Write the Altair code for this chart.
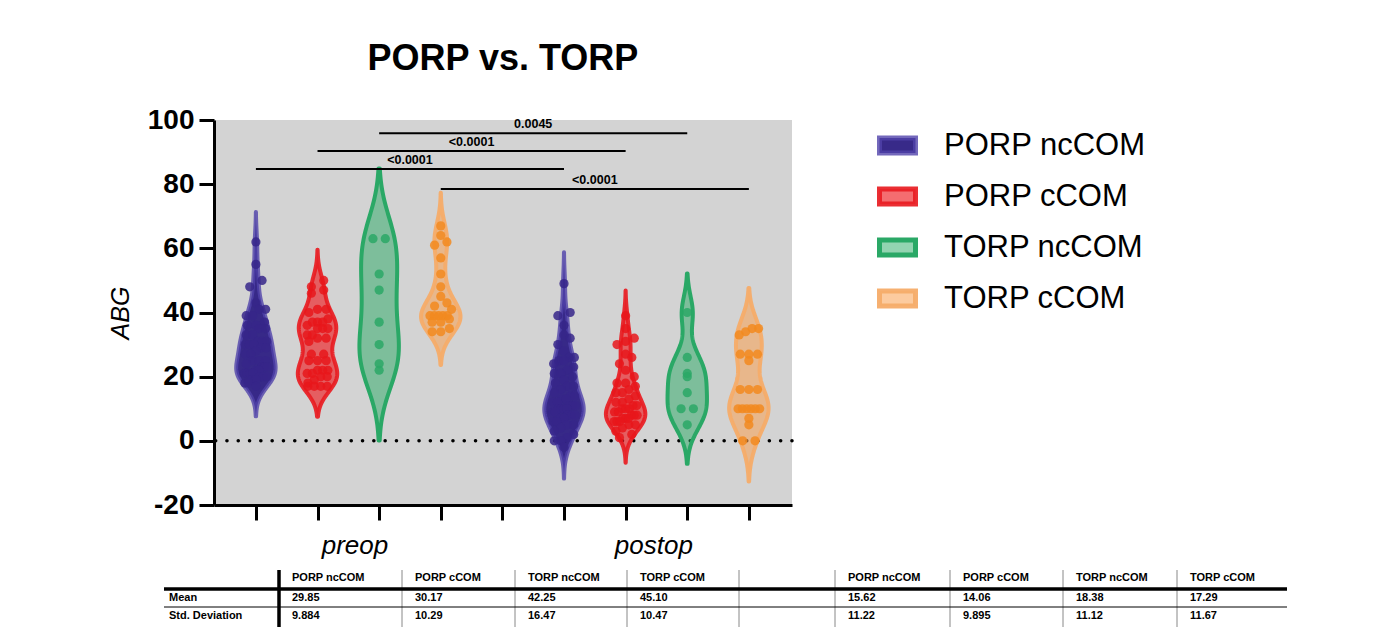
import altair as alt
import numpy as np
import pandas as pd

# ---------------- data ----------------
groups = ["PORP ncCOM", "PORP cCOM", "TORP ncCOM", "TORP cCOM"]
timepoints = ["preop", "postop"]

preop_porp_nccom = [62, 55, 50, 48, 43, 41, 41, 39, 39, 37, 36, 36, 35, 35, 33, 33, 31, 31, 31, 30,
                    30, 30, 29, 29, 28, 27, 27, 25, 25, 25, 24, 23, 23, 23, 22, 22, 21, 21, 21, 21,
                    20, 20, 20, 19, 19, 18, 18, 17]
preop_porp_ccom = [50, 48, 47, 46, 41, 41, 40, 38, 37, 37, 37, 36, 35, 35, 35, 33, 33, 32, 32, 31,
                   27, 27, 25, 25, 25, 22, 21, 22, 22, 21, 20, 20, 19, 18, 17, 17, 17, 17]
preop_torp_nccom = [63, 63, 52, 47, 37, 30, 24, 22]
preop_torp_ccom = [67, 64, 62, 61, 57, 52, 48, 45, 43, 42, 41, 39, 39, 39, 39, 39, 38, 37, 37, 35, 34, 34]

postop_porp_nccom = [49, 40, 39, 36, 33, 32, 30, 28, 26, 25, 26, 25, 24, 23, 22, 21, 21, 20, 19, 18,
                     17, 17, 16, 15, 14, 14, 13, 13, 12, 12, 11, 11, 11, 10, 10, 10, 10, 9, 9, 8,
                     8, 8, 7, 7, 6, 6, 5, 5, 4, 3, 2, 1, 0, 0, -2]
postop_porp_ccom = [39, 35, 32, 31, 30, 27, 26, 24, 22, 20, 18, 18, 17, 16, 15, 15, 14, 13, 12, 12,
                    11, 11, 10, 10, 10, 9, 9, 8, 8, 8, 7, 7, 7, 6, 6, 6, 5, 5, 4, 3, 2, 1]
postop_torp_nccom = [40, 26, 21, 20, 15, 10, 10, 5]
postop_torp_ccom = [35, 35, 34, 33, 27, 27, 27, 25, 16, 16, 16, 10, 10, 10, 10, 10, 10, 7, 5, 0, 0]

series = [
    [preop_porp_nccom, preop_porp_ccom, preop_torp_nccom, preop_torp_ccom],
    [postop_porp_nccom, postop_porp_ccom, postop_torp_nccom, postop_torp_ccom],
]

# summary table (as printed under the chart)
table_rows = ["Mean", "Std. Deviation"]
preop_mean = ["29.85", "30.17", "42.25", "45.10"]
preop_sd = ["9.884", "10.29", "16.47", "10.47"]
postop_mean = ["15.62", "14.06", "18.38", "17.29"]
postop_sd = ["11.22", "9.895", "11.12", "11.67"]

# preop vs postop comparisons, one per group
sig_labels = ["<0.0001", "<0.0001", "0.0045", "<0.0001"]

# ---------------- layout / style ----------------
FONT = "Liberation Sans"
sig_levels = [84.7, 90.3, 95.9, 78.5]          # height of each comparison bar (ABG units)
fill_colors = ["rgba(48,33,132,0.96)", "rgba(238,30,35,0.65)", "rgba(40,170,100,0.5)", "rgba(250,160,80,0.55)"]
stroke_colors = ["rgba(80,66,170,0.8)", "rgba(232,28,34,0.92)", "#2AA866", "rgba(246,172,105,0.95)"]
point_colors = ["#36268A", "#E8161B", "#2AA866", "#F28A1E"]
HALF_W = 0.32
TIME_LABEL_POS = [1.6, 6.45]

n_g = len(groups)
rows = []
for ti, tp in enumerate(timepoints):
    for gi, g in enumerate(groups):
        for v in series[ti][gi]:
            rows.append({"key": f"{tp}|{g}", "group": g, "pos": ti * (n_g + 1) + gi, "value": v})
df = pd.DataFrame(rows)

xsc = alt.Scale(domain=[-0.68, 8.70], nice=False, zero=False)
ysc = alt.Scale(domain=[-20, 100], nice=False, zero=False)

p1, p2 = TIME_LABEL_POS
xax = alt.Axis(
    values=sorted(list(range(9)) + TIME_LABEL_POS), title=None, grid=False,
    labelExpr=f"datum.value == {p1} ? '{timepoints[0]}' : (datum.value == {p2} ? '{timepoints[1]}' : '')",
    tickOpacity={"condition": {"test": f"datum.value == {p1} || datum.value == {p2}", "value": 0}, "value": 1},
    labelFontSize=26, labelFontStyle="italic", labelFont=FONT, labelColor="black", labelPadding=12,
    tickSize=15, tickWidth=3, tickColor="black", domainWidth=3, domainColor="black",
    labelOverlap=False, labelFlush=False, labelBound=False)
yax = alt.Axis(
    values=[-20, 0, 20, 40, 60, 80, 100], title="ABG", titleFontSize=25, titleFontStyle="italic",
    titleFontWeight="normal", titleFont=FONT, titleColor="black", titlePadding=14,
    labelExpr="datum.value < 0 ? '-' + abs(datum.value) : datum.label",
    labelFontSize=28, labelFontWeight="bold", labelFont=FONT, labelColor="black", labelPadding=5,
    tickSize=15, tickWidth=3, tickColor="black", domainWidth=3, domainColor="black", grid=False)

legend = alt.Legend(
    title=None, orient="none", legendX=663, legendY=5,
    symbolType="M-1,-0.42H1V0.42H-1Z", symbolSize=1296, symbolStrokeWidth=5,
    labelFontSize=31, labelFont=FONT, labelColor="black", labelOffset=26, labelLimit=500,
    rowPadding=12)

fill_enc = alt.Fill("group:N", scale=alt.Scale(domain=groups, range=fill_colors), legend=legend)
stroke_enc = alt.Stroke("group:N", scale=alt.Scale(domain=groups, range=stroke_colors), legend=legend)


def scott_bw(v):
    v = np.asarray(v, float)
    sd = v.std(ddof=1)
    q1, q3 = np.percentile(v, [25, 75])
    s = min(sd, (q3 - q1) / 1.34) if q3 > q1 else sd
    return 1.06 * s * len(v) ** -0.2


violins = []
for ti, tp in enumerate(timepoints):
    for gi, g in enumerate(groups):
        vals = series[ti][gi]
        bw = scott_bw(vals)
        lo, hi = min(vals) - 1.9 * bw, max(vals) + 1.9 * bw
        key = f"{tp}|{g}"
        v = (
            alt.Chart(df)
            .transform_filter(alt.FieldEqualPredicate(field="key", equal=key))
            .transform_density("value", as_=["value", "density"], bandwidth=0.8 * bw,
                               extent=[lo, hi], steps=180, groupby=["group", "pos"])
            .transform_joinaggregate(dmax="max(density)")
            .transform_calculate(
                xl=f"datum.pos - {HALF_W} * datum.density / datum.dmax",
                xr=f"datum.pos + {HALF_W} * datum.density / datum.dmax")
            .mark_area(orient="horizontal", strokeWidth=4, strokeJoin="round", strokeCap="round")
            .encode(
                y=alt.Y("value:Q", scale=ysc, axis=yax),
                x=alt.X("xl:Q", scale=xsc, axis=xax),
                x2="xr:Q",
                fill=fill_enc,
                stroke=stroke_enc,
            )
        )
        violins.append(v)

points = (
    alt.Chart(df)
    .transform_calculate(vb="floor(datum.value / 3)")
    .transform_window(rk="row_number()", groupby=["key", "vb"], sort=[alt.SortField("value")])
    .transform_joinaggregate(cnt="count()", groupby=["key", "vb"])
    .transform_calculate(xo="datum.pos + (datum.rk - (datum.cnt + 1) / 2) * min(0.2, 0.42 / datum.cnt)")
    .mark_circle(size=85, opacity=0.85)
    .encode(
        x=alt.X("xo:Q", scale=xsc, axis=xax),
        y=alt.Y("value:Q", scale=ysc, axis=yax),
        color=alt.Color("group:N", scale=alt.Scale(domain=groups, range=point_colors), legend=None),
    )
)

zero = (
    alt.Chart(pd.DataFrame({"zero": [0]}))
    .mark_rule(color="black", strokeWidth=3.5, strokeDash=[0.1, 11.2], strokeCap="round")
    .encode(y=alt.Y("zero:Q", scale=ysc, axis=yax))
)

sig_df = pd.DataFrame({
    "x1": [gi for gi in range(n_g)],
    "x2": [n_g + 1 + gi for gi in range(n_g)],
    "level": sig_levels,
    "label": sig_labels,
})
sig_base = alt.Chart(sig_df).transform_calculate(mid="(datum.x1 + datum.x2) / 2")
sig_rules = sig_base.mark_rule(color="black", strokeWidth=2).encode(
    x=alt.X("x1:Q", scale=xsc, axis=xax), x2="x2:Q", y=alt.Y("level:Q", scale=ysc, axis=yax))
sig_text = sig_base.mark_text(dy=-9, fontSize=12.5, fontWeight="bold", font=FONT, color="black").encode(
    x=alt.X("mid:Q", scale=xsc, axis=xax), y=alt.Y("level:Q", scale=ysc, axis=yax), text="label:N")

main = alt.layer(zero, *violins, points, sig_rules, sig_text).properties(
    width=578, height=385,
    title=alt.TitleParams("PORP vs. TORP", fontSize=36, fontWeight="bold", font=FONT, color="black",
                          anchor="middle", frame="group", offset=28),
    view=alt.ViewBackground(fill="#D3D3D3", stroke="transparent"),
)

# ---------------- summary table ----------------
T_LEFT, T_RIGHT = 165, 1288
col_lines = [280, 403, 516, 628, 740, 836, 951, 1064, 1178]
text_cols = [280, 403, 516, 628, 836, 951, 1064, 1178]
TEXT_GAP = 13
ROW_LABEL_X = 170
Y_HEAD, Y_MEAN, Y_SD = 576, 596, 614
Y_THICK, Y_THIN = 587, 605
Y_TOP, Y_BOT = 568, 625

tx = alt.Scale(domain=[215, 1295], nice=False, zero=False)
ty = alt.Scale(domain=[566, 628], nice=False, zero=False, reverse=True)

cells = []
for i, name in enumerate(groups * 2):
    cells.append({"tx": text_cols[i] + TEXT_GAP, "ty": Y_HEAD, "txt": name})
for i, val in enumerate(preop_mean + postop_mean):
    cells.append({"tx": text_cols[i] + TEXT_GAP, "ty": Y_MEAN, "txt": val})
for i, val in enumerate(preop_sd + postop_sd):
    cells.append({"tx": text_cols[i] + TEXT_GAP, "ty": Y_SD, "txt": val})
cells.append({"tx": ROW_LABEL_X, "ty": Y_MEAN, "txt": table_rows[0]})
cells.append({"tx": ROW_LABEL_X, "ty": Y_SD, "txt": table_rows[1]})
cells_df = pd.DataFrame(cells)

t_text = alt.Chart(cells_df).mark_text(align="left", baseline="middle", fontSize=11, fontWeight="bold",
                                       font=FONT, color="black").encode(
    x=alt.X("tx:Q", scale=tx, axis=None), y=alt.Y("ty:Q", scale=ty, axis=None), text="txt:N")

hl = pd.DataFrame({"x0": [T_LEFT, T_LEFT], "x1": [T_RIGHT, T_RIGHT], "y": [Y_THICK, Y_THIN],
                   "w": ["thick", "thin"]})
t_hlines = alt.Chart(hl).mark_rule(color="black").encode(
    x=alt.X("x0:Q", scale=tx, axis=None), x2="x1:Q", y=alt.Y("y:Q", scale=ty, axis=None),
    strokeWidth=alt.StrokeWidth("w:N", scale=alt.Scale(domain=["thick", "thin"], range=[4, 1.2]), legend=None))

vl = pd.DataFrame({"x": col_lines, "y0": [Y_TOP] * len(col_lines), "y1": [Y_BOT] * len(col_lines),
                   "w": ["thick"] + ["thin"] * (len(col_lines) - 1)})
t_vlines = alt.Chart(vl).mark_rule().encode(
    x=alt.X("x:Q", scale=tx, axis=None), y=alt.Y("y0:Q", scale=ty, axis=None), y2="y1:Q",
    strokeWidth=alt.StrokeWidth("w:N", scale=alt.Scale(domain=["thick", "thin"], range=[3.5, 1]), legend=None),
    color=alt.Color("w:N", scale=alt.Scale(domain=["thick", "thin"], range=["#000000", "#888888"]), legend=None))

table = alt.layer(t_vlines, t_hlines, t_text).properties(
    width=1080, height=62, view=alt.ViewBackground(fill="white", stroke="transparent", strokeWidth=0))

chart = (
    alt.vconcat(main, table, spacing=10)
    .resolve_scale(x="independent", y="independent", color="independent", strokeWidth="independent")
    .properties(padding={"left": 100, "top": 33, "right": 5, "bottom": 2}, background="white")
    .configure(font=FONT)
    .configure_view(stroke="transparent", strokeWidth=0)
)

chart.save("out.html", embed_options={"renderer": "svg", "actions": False})
